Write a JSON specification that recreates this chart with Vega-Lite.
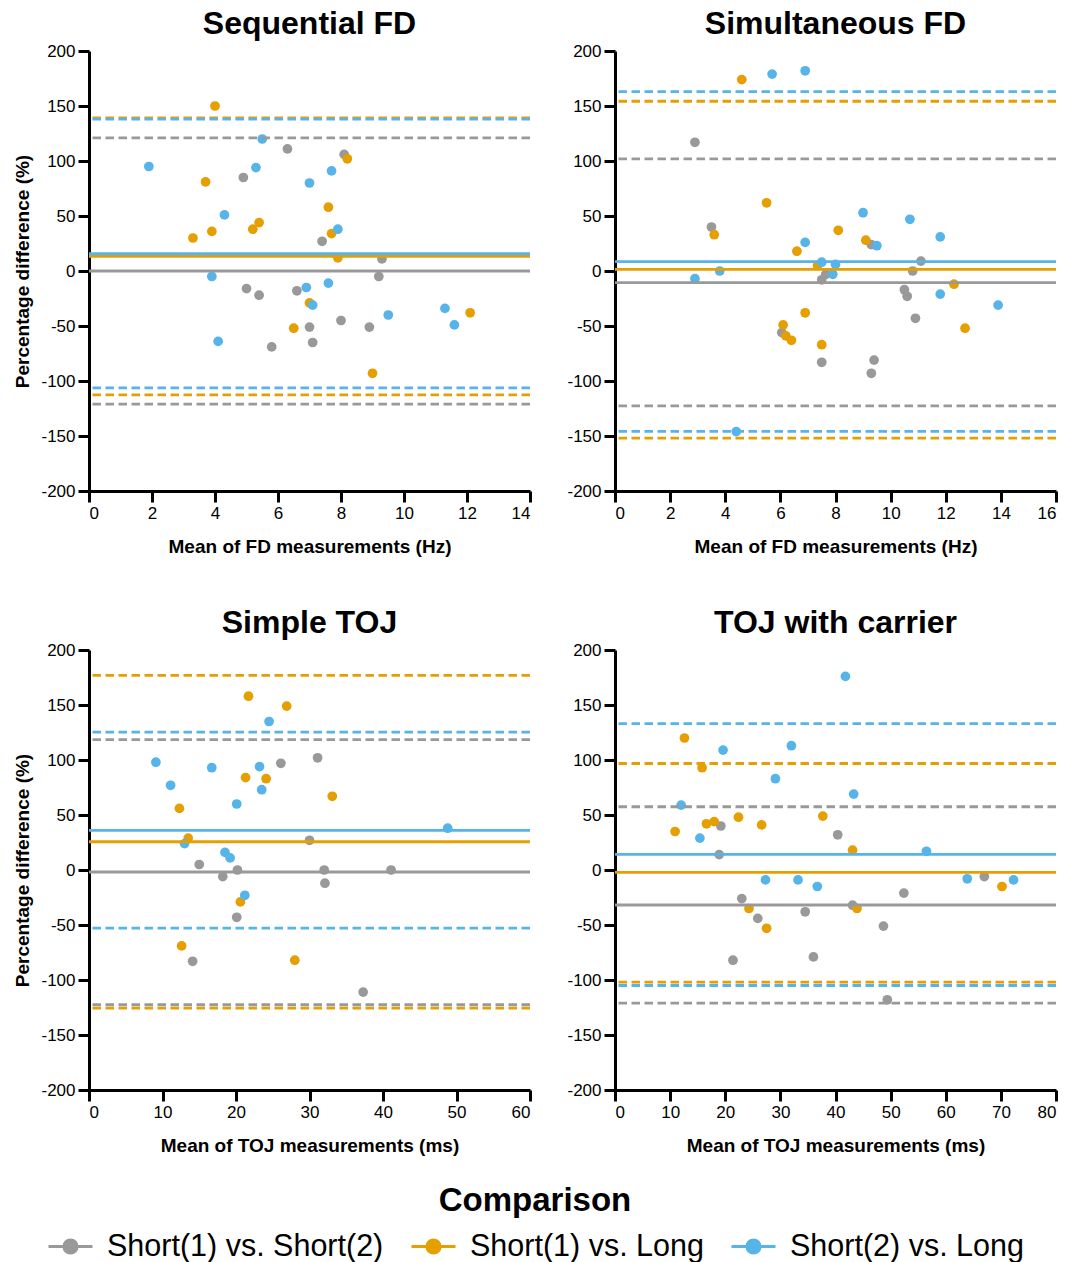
{
  "$schema": "https://vega.github.io/schema/vega-lite/v6.json",
  "padding": {"left": 13, "top": 8, "right": 5, "bottom": 2},
  "background": "white",
  "datasets": {
    "pts": [
      {"panel":"SF","comparison":"Short(1) vs. Short(2)","mean":6.3,"diff":111},
      {"panel":"SF","comparison":"Short(1) vs. Short(2)","mean":8.1,"diff":106},
      {"panel":"SF","comparison":"Short(1) vs. Short(2)","mean":4.9,"diff":85},
      {"panel":"SF","comparison":"Short(1) vs. Short(2)","mean":7.4,"diff":27},
      {"panel":"SF","comparison":"Short(1) vs. Short(2)","mean":9.3,"diff":11},
      {"panel":"SF","comparison":"Short(1) vs. Short(2)","mean":9.2,"diff":-5},
      {"panel":"SF","comparison":"Short(1) vs. Short(2)","mean":5.0,"diff":-16},
      {"panel":"SF","comparison":"Short(1) vs. Short(2)","mean":5.4,"diff":-22},
      {"panel":"SF","comparison":"Short(1) vs. Short(2)","mean":6.6,"diff":-18},
      {"panel":"SF","comparison":"Short(1) vs. Short(2)","mean":7.0,"diff":-51},
      {"panel":"SF","comparison":"Short(1) vs. Short(2)","mean":7.1,"diff":-65},
      {"panel":"SF","comparison":"Short(1) vs. Short(2)","mean":5.8,"diff":-69},
      {"panel":"SF","comparison":"Short(1) vs. Short(2)","mean":8.0,"diff":-45},
      {"panel":"SF","comparison":"Short(1) vs. Short(2)","mean":8.9,"diff":-51},
      {"panel":"SF","comparison":"Short(1) vs. Long","mean":4.0,"diff":150},
      {"panel":"SF","comparison":"Short(1) vs. Long","mean":3.7,"diff":81},
      {"panel":"SF","comparison":"Short(1) vs. Long","mean":3.3,"diff":30},
      {"panel":"SF","comparison":"Short(1) vs. Long","mean":3.9,"diff":36},
      {"panel":"SF","comparison":"Short(1) vs. Long","mean":5.2,"diff":38},
      {"panel":"SF","comparison":"Short(1) vs. Long","mean":5.4,"diff":44},
      {"panel":"SF","comparison":"Short(1) vs. Long","mean":7.6,"diff":58},
      {"panel":"SF","comparison":"Short(1) vs. Long","mean":7.7,"diff":34},
      {"panel":"SF","comparison":"Short(1) vs. Long","mean":8.2,"diff":102},
      {"panel":"SF","comparison":"Short(1) vs. Long","mean":7.9,"diff":12},
      {"panel":"SF","comparison":"Short(1) vs. Long","mean":7.0,"diff":-29},
      {"panel":"SF","comparison":"Short(1) vs. Long","mean":6.5,"diff":-52},
      {"panel":"SF","comparison":"Short(1) vs. Long","mean":9.0,"diff":-93},
      {"panel":"SF","comparison":"Short(1) vs. Long","mean":12.1,"diff":-38},
      {"panel":"SF","comparison":"Short(2) vs. Long","mean":1.9,"diff":95},
      {"panel":"SF","comparison":"Short(2) vs. Long","mean":5.3,"diff":94},
      {"panel":"SF","comparison":"Short(2) vs. Long","mean":5.5,"diff":120},
      {"panel":"SF","comparison":"Short(2) vs. Long","mean":7.7,"diff":91},
      {"panel":"SF","comparison":"Short(2) vs. Long","mean":7.0,"diff":80},
      {"panel":"SF","comparison":"Short(2) vs. Long","mean":4.3,"diff":51},
      {"panel":"SF","comparison":"Short(2) vs. Long","mean":7.9,"diff":38},
      {"panel":"SF","comparison":"Short(2) vs. Long","mean":3.9,"diff":-5},
      {"panel":"SF","comparison":"Short(2) vs. Long","mean":6.9,"diff":-15},
      {"panel":"SF","comparison":"Short(2) vs. Long","mean":7.6,"diff":-11},
      {"panel":"SF","comparison":"Short(2) vs. Long","mean":7.1,"diff":-31},
      {"panel":"SF","comparison":"Short(2) vs. Long","mean":4.1,"diff":-64},
      {"panel":"SF","comparison":"Short(2) vs. Long","mean":9.5,"diff":-40},
      {"panel":"SF","comparison":"Short(2) vs. Long","mean":11.3,"diff":-34},
      {"panel":"SF","comparison":"Short(2) vs. Long","mean":11.6,"diff":-49},

      {"panel":"SiF","comparison":"Short(1) vs. Short(2)","mean":2.9,"diff":117},
      {"panel":"SiF","comparison":"Short(1) vs. Short(2)","mean":3.5,"diff":40},
      {"panel":"SiF","comparison":"Short(1) vs. Short(2)","mean":9.3,"diff":24},
      {"panel":"SiF","comparison":"Short(1) vs. Short(2)","mean":11.1,"diff":9},
      {"panel":"SiF","comparison":"Short(1) vs. Short(2)","mean":10.8,"diff":0},
      {"panel":"SiF","comparison":"Short(1) vs. Short(2)","mean":7.65,"diff":-3},
      {"panel":"SiF","comparison":"Short(1) vs. Short(2)","mean":7.5,"diff":-8},
      {"panel":"SiF","comparison":"Short(1) vs. Short(2)","mean":10.5,"diff":-17},
      {"panel":"SiF","comparison":"Short(1) vs. Short(2)","mean":10.6,"diff":-23},
      {"panel":"SiF","comparison":"Short(1) vs. Short(2)","mean":10.9,"diff":-43},
      {"panel":"SiF","comparison":"Short(1) vs. Short(2)","mean":6.05,"diff":-56},
      {"panel":"SiF","comparison":"Short(1) vs. Short(2)","mean":7.5,"diff":-83},
      {"panel":"SiF","comparison":"Short(1) vs. Short(2)","mean":9.4,"diff":-81},
      {"panel":"SiF","comparison":"Short(1) vs. Short(2)","mean":9.3,"diff":-93},
      {"panel":"SiF","comparison":"Short(1) vs. Long","mean":4.6,"diff":174},
      {"panel":"SiF","comparison":"Short(1) vs. Long","mean":5.5,"diff":62},
      {"panel":"SiF","comparison":"Short(1) vs. Long","mean":3.6,"diff":33},
      {"panel":"SiF","comparison":"Short(1) vs. Long","mean":6.6,"diff":18},
      {"panel":"SiF","comparison":"Short(1) vs. Long","mean":8.1,"diff":37},
      {"panel":"SiF","comparison":"Short(1) vs. Long","mean":9.1,"diff":28},
      {"panel":"SiF","comparison":"Short(1) vs. Long","mean":7.35,"diff":5},
      {"panel":"SiF","comparison":"Short(1) vs. Long","mean":12.3,"diff":-12},
      {"panel":"SiF","comparison":"Short(1) vs. Long","mean":6.9,"diff":-38},
      {"panel":"SiF","comparison":"Short(1) vs. Long","mean":6.1,"diff":-49},
      {"panel":"SiF","comparison":"Short(1) vs. Long","mean":6.2,"diff":-59},
      {"panel":"SiF","comparison":"Short(1) vs. Long","mean":6.4,"diff":-63},
      {"panel":"SiF","comparison":"Short(1) vs. Long","mean":7.5,"diff":-67},
      {"panel":"SiF","comparison":"Short(1) vs. Long","mean":12.7,"diff":-52},
      {"panel":"SiF","comparison":"Short(2) vs. Long","mean":5.7,"diff":179},
      {"panel":"SiF","comparison":"Short(2) vs. Long","mean":6.9,"diff":182},
      {"panel":"SiF","comparison":"Short(2) vs. Long","mean":9.0,"diff":53},
      {"panel":"SiF","comparison":"Short(2) vs. Long","mean":10.7,"diff":47},
      {"panel":"SiF","comparison":"Short(2) vs. Long","mean":11.8,"diff":31},
      {"panel":"SiF","comparison":"Short(2) vs. Long","mean":6.9,"diff":26},
      {"panel":"SiF","comparison":"Short(2) vs. Long","mean":9.5,"diff":23},
      {"panel":"SiF","comparison":"Short(2) vs. Long","mean":7.5,"diff":8},
      {"panel":"SiF","comparison":"Short(2) vs. Long","mean":8.0,"diff":6},
      {"panel":"SiF","comparison":"Short(2) vs. Long","mean":7.9,"diff":-3},
      {"panel":"SiF","comparison":"Short(2) vs. Long","mean":3.8,"diff":0},
      {"panel":"SiF","comparison":"Short(2) vs. Long","mean":2.9,"diff":-7},
      {"panel":"SiF","comparison":"Short(2) vs. Long","mean":11.8,"diff":-21},
      {"panel":"SiF","comparison":"Short(2) vs. Long","mean":13.9,"diff":-31},
      {"panel":"SiF","comparison":"Short(2) vs. Long","mean":4.4,"diff":-146},

      {"panel":"ST","comparison":"Short(1) vs. Short(2)","mean":31.1,"diff":102},
      {"panel":"ST","comparison":"Short(1) vs. Short(2)","mean":26.1,"diff":97},
      {"panel":"ST","comparison":"Short(1) vs. Short(2)","mean":30.0,"diff":27},
      {"panel":"ST","comparison":"Short(1) vs. Short(2)","mean":15.0,"diff":5},
      {"panel":"ST","comparison":"Short(1) vs. Short(2)","mean":18.2,"diff":-6},
      {"panel":"ST","comparison":"Short(1) vs. Short(2)","mean":20.2,"diff":0},
      {"panel":"ST","comparison":"Short(1) vs. Short(2)","mean":32.0,"diff":0},
      {"panel":"ST","comparison":"Short(1) vs. Short(2)","mean":41.1,"diff":0},
      {"panel":"ST","comparison":"Short(1) vs. Short(2)","mean":32.1,"diff":-12},
      {"panel":"ST","comparison":"Short(1) vs. Short(2)","mean":20.1,"diff":-43},
      {"panel":"ST","comparison":"Short(1) vs. Short(2)","mean":14.1,"diff":-83},
      {"panel":"ST","comparison":"Short(1) vs. Short(2)","mean":37.3,"diff":-111},
      {"panel":"ST","comparison":"Short(1) vs. Long","mean":21.7,"diff":158},
      {"panel":"ST","comparison":"Short(1) vs. Long","mean":26.9,"diff":149},
      {"panel":"ST","comparison":"Short(1) vs. Long","mean":21.3,"diff":84},
      {"panel":"ST","comparison":"Short(1) vs. Long","mean":24.1,"diff":83},
      {"panel":"ST","comparison":"Short(1) vs. Long","mean":33.1,"diff":67},
      {"panel":"ST","comparison":"Short(1) vs. Long","mean":12.3,"diff":56},
      {"panel":"ST","comparison":"Short(1) vs. Long","mean":13.5,"diff":29},
      {"panel":"ST","comparison":"Short(1) vs. Long","mean":20.6,"diff":-29},
      {"panel":"ST","comparison":"Short(1) vs. Long","mean":12.6,"diff":-69},
      {"panel":"ST","comparison":"Short(1) vs. Long","mean":28.0,"diff":-82},
      {"panel":"ST","comparison":"Short(2) vs. Long","mean":9.1,"diff":98},
      {"panel":"ST","comparison":"Short(2) vs. Long","mean":11.1,"diff":77},
      {"panel":"ST","comparison":"Short(2) vs. Long","mean":16.7,"diff":93},
      {"panel":"ST","comparison":"Short(2) vs. Long","mean":23.2,"diff":94},
      {"panel":"ST","comparison":"Short(2) vs. Long","mean":24.5,"diff":135},
      {"panel":"ST","comparison":"Short(2) vs. Long","mean":23.5,"diff":73},
      {"panel":"ST","comparison":"Short(2) vs. Long","mean":20.1,"diff":60},
      {"panel":"ST","comparison":"Short(2) vs. Long","mean":48.8,"diff":38},
      {"panel":"ST","comparison":"Short(2) vs. Long","mean":13.0,"diff":24},
      {"panel":"ST","comparison":"Short(2) vs. Long","mean":18.5,"diff":16},
      {"panel":"ST","comparison":"Short(2) vs. Long","mean":19.2,"diff":11},
      {"panel":"ST","comparison":"Short(2) vs. Long","mean":21.2,"diff":-23},

      {"panel":"TC","comparison":"Short(1) vs. Short(2)","mean":19.2,"diff":40},
      {"panel":"TC","comparison":"Short(1) vs. Short(2)","mean":18.9,"diff":14},
      {"panel":"TC","comparison":"Short(1) vs. Short(2)","mean":40.4,"diff":32},
      {"panel":"TC","comparison":"Short(1) vs. Short(2)","mean":23.0,"diff":-26},
      {"panel":"TC","comparison":"Short(1) vs. Short(2)","mean":25.9,"diff":-44},
      {"panel":"TC","comparison":"Short(1) vs. Short(2)","mean":21.4,"diff":-82},
      {"panel":"TC","comparison":"Short(1) vs. Short(2)","mean":34.5,"diff":-38},
      {"panel":"TC","comparison":"Short(1) vs. Short(2)","mean":36.0,"diff":-79},
      {"panel":"TC","comparison":"Short(1) vs. Short(2)","mean":43.1,"diff":-32},
      {"panel":"TC","comparison":"Short(1) vs. Short(2)","mean":48.7,"diff":-51},
      {"panel":"TC","comparison":"Short(1) vs. Short(2)","mean":52.4,"diff":-21},
      {"panel":"TC","comparison":"Short(1) vs. Short(2)","mean":49.4,"diff":-118},
      {"panel":"TC","comparison":"Short(1) vs. Short(2)","mean":67.0,"diff":-6},
      {"panel":"TC","comparison":"Short(1) vs. Long","mean":12.6,"diff":120},
      {"panel":"TC","comparison":"Short(1) vs. Long","mean":15.8,"diff":93},
      {"panel":"TC","comparison":"Short(1) vs. Long","mean":10.9,"diff":35},
      {"panel":"TC","comparison":"Short(1) vs. Long","mean":16.6,"diff":42},
      {"panel":"TC","comparison":"Short(1) vs. Long","mean":18.0,"diff":44},
      {"panel":"TC","comparison":"Short(1) vs. Long","mean":22.4,"diff":48},
      {"panel":"TC","comparison":"Short(1) vs. Long","mean":26.6,"diff":41},
      {"panel":"TC","comparison":"Short(1) vs. Long","mean":37.7,"diff":49},
      {"panel":"TC","comparison":"Short(1) vs. Long","mean":43.1,"diff":18},
      {"panel":"TC","comparison":"Short(1) vs. Long","mean":24.3,"diff":-35},
      {"panel":"TC","comparison":"Short(1) vs. Long","mean":27.5,"diff":-53},
      {"panel":"TC","comparison":"Short(1) vs. Long","mean":43.9,"diff":-35},
      {"panel":"TC","comparison":"Short(1) vs. Long","mean":70.2,"diff":-15},
      {"panel":"TC","comparison":"Short(2) vs. Long","mean":41.8,"diff":176},
      {"panel":"TC","comparison":"Short(2) vs. Long","mean":19.6,"diff":109},
      {"panel":"TC","comparison":"Short(2) vs. Long","mean":32.0,"diff":113},
      {"panel":"TC","comparison":"Short(2) vs. Long","mean":29.1,"diff":83},
      {"panel":"TC","comparison":"Short(2) vs. Long","mean":43.3,"diff":69},
      {"panel":"TC","comparison":"Short(2) vs. Long","mean":12.0,"diff":59},
      {"panel":"TC","comparison":"Short(2) vs. Long","mean":15.4,"diff":29},
      {"panel":"TC","comparison":"Short(2) vs. Long","mean":56.5,"diff":17},
      {"panel":"TC","comparison":"Short(2) vs. Long","mean":27.3,"diff":-9},
      {"panel":"TC","comparison":"Short(2) vs. Long","mean":33.2,"diff":-9},
      {"panel":"TC","comparison":"Short(2) vs. Long","mean":36.7,"diff":-15},
      {"panel":"TC","comparison":"Short(2) vs. Long","mean":63.9,"diff":-8},
      {"panel":"TC","comparison":"Short(2) vs. Long","mean":72.3,"diff":-9}
    ],
    "lines": [
      {"panel":"SF","comparison":"Short(1) vs. Short(2)","kind":"bias","value":0},
      {"panel":"SF","comparison":"Short(1) vs. Short(2)","kind":"loa","value":121},
      {"panel":"SF","comparison":"Short(1) vs. Short(2)","kind":"loa","value":-121},
      {"panel":"SF","comparison":"Short(1) vs. Long","kind":"bias","value":13.3},
      {"panel":"SF","comparison":"Short(1) vs. Long","kind":"loa","value":139.2},
      {"panel":"SF","comparison":"Short(1) vs. Long","kind":"loa","value":-112.6},
      {"panel":"SF","comparison":"Short(2) vs. Long","kind":"bias","value":15.7},
      {"panel":"SF","comparison":"Short(2) vs. Long","kind":"loa","value":138.0},
      {"panel":"SF","comparison":"Short(2) vs. Long","kind":"loa","value":-106.3},
      {"panel":"SiF","comparison":"Short(1) vs. Short(2)","kind":"bias","value":-10.6},
      {"panel":"SiF","comparison":"Short(1) vs. Short(2)","kind":"loa","value":102},
      {"panel":"SiF","comparison":"Short(1) vs. Short(2)","kind":"loa","value":-122.6},
      {"panel":"SiF","comparison":"Short(1) vs. Long","kind":"bias","value":1.5},
      {"panel":"SiF","comparison":"Short(1) vs. Long","kind":"loa","value":154.3},
      {"panel":"SiF","comparison":"Short(1) vs. Long","kind":"loa","value":-151.9},
      {"panel":"SiF","comparison":"Short(2) vs. Long","kind":"bias","value":8.5},
      {"panel":"SiF","comparison":"Short(2) vs. Long","kind":"loa","value":163},
      {"panel":"SiF","comparison":"Short(2) vs. Long","kind":"loa","value":-145.8},
      {"panel":"ST","comparison":"Short(1) vs. Short(2)","kind":"bias","value":-1.8},
      {"panel":"ST","comparison":"Short(1) vs. Short(2)","kind":"loa","value":118.6},
      {"panel":"ST","comparison":"Short(1) vs. Short(2)","kind":"loa","value":-122.5},
      {"panel":"ST","comparison":"Short(1) vs. Long","kind":"bias","value":25.7},
      {"panel":"ST","comparison":"Short(1) vs. Long","kind":"loa","value":177},
      {"panel":"ST","comparison":"Short(1) vs. Long","kind":"loa","value":-125.6},
      {"panel":"ST","comparison":"Short(2) vs. Long","kind":"bias","value":36},
      {"panel":"ST","comparison":"Short(2) vs. Long","kind":"loa","value":125.3},
      {"panel":"ST","comparison":"Short(2) vs. Long","kind":"loa","value":-52.9},
      {"panel":"TC","comparison":"Short(1) vs. Short(2)","kind":"bias","value":-31.8},
      {"panel":"TC","comparison":"Short(1) vs. Short(2)","kind":"loa","value":57.5},
      {"panel":"TC","comparison":"Short(1) vs. Short(2)","kind":"loa","value":-121},
      {"panel":"TC","comparison":"Short(1) vs. Long","kind":"bias","value":-2.1},
      {"panel":"TC","comparison":"Short(1) vs. Long","kind":"loa","value":96.8},
      {"panel":"TC","comparison":"Short(1) vs. Long","kind":"loa","value":-102},
      {"panel":"TC","comparison":"Short(2) vs. Long","kind":"bias","value":14.2},
      {"panel":"TC","comparison":"Short(2) vs. Long","kind":"loa","value":133.1},
      {"panel":"TC","comparison":"Short(2) vs. Long","kind":"loa","value":-105}
    ]
  },
  "columns": 2,
  "spacing": {"row": 159, "column": 85},
  "bounds": "flush",
  "concat": [
    {
      "width": 441, "height": 440,
      "title": "Sequential FD",
      "layer": [
        {
          "data": {"name": "pts"},
          "transform": [{"filter": "datum.panel === 'SF'"}],
          "mark": {"type": "point", "filled": true, "size": 95, "opacity": 1, "shape": "circle"},
          "encoding": {
            "x": {"field": "mean", "type": "quantitative", "scale": {"domain": [0, 14], "nice": false, "zero": false}, "axis": {"values": [0,2,4,6,8,10,12,14], "title": "Mean of FD measurements (Hz)"}},
            "y": {"field": "diff", "type": "quantitative", "scale": {"domain": [-200, 200], "nice": false}, "axis": {"values": [-200,-150,-100,-50,0,50,100,150,200], "title": "Percentage difference (%)"}},
            "color": {"field": "comparison", "type": "nominal", "scale": {"domain": ["Short(1) vs. Short(2)", "Short(1) vs. Long", "Short(2) vs. Long"], "range": ["#999999", "#E69F00", "#56B4E9"]}, "legend": {"orient": "none", "legendX": -42, "legendY": 1134, "direction": "horizontal", "title": "Comparison", "titleAnchor": "middle", "titleFontSize": 33, "titleFontWeight": "bold", "titleColor": "black", "titlePadding": 5, "titleLimit": 600, "labelLimit": 500, "labelFontSize": 30.5, "labelColor": "black", "labelOffset": 13, "columnPadding": 21, "symbolType": "M-1,0L1,0M0.3,0A0.3,0.3,0,1,1,-0.3,0A0.3,0.3,0,1,1,0.3,0Z", "symbolSize": 1936, "symbolStrokeWidth": 3, "symbolOpacity": 1, "encode": {"symbols": {"update": {"fill": {"scale": "color", "field": "value"}, "stroke": {"scale": "color", "field": "value"}}}}}}
          }
        },
        {
          "data": {"name": "lines"},
          "transform": [{"filter": "datum.panel === 'SF'"}],
          "mark": {"type": "rule", "strokeWidth": 2.8},
          "encoding": {
            "y": {"field": "value", "type": "quantitative"},
            "color": {"field": "comparison", "type": "nominal"},
            "strokeDash": {"field": "kind", "type": "nominal", "scale": {"domain": ["bias", "loa"], "range": [[1, 0], [8.5, 4.5]]}, "legend": null}
          }
        }
      ]
    },
    {
      "width": 441, "height": 440,
      "title": "Simultaneous FD",
      "layer": [
        {
          "data": {"name": "pts"},
          "transform": [{"filter": "datum.panel === 'SiF'"}],
          "mark": {"type": "point", "filled": true, "size": 95, "opacity": 1, "shape": "circle"},
          "encoding": {
            "x": {"field": "mean", "type": "quantitative", "scale": {"domain": [0, 16], "nice": false, "zero": false}, "axis": {"values": [0,2,4,6,8,10,12,14,16], "title": "Mean of FD measurements (Hz)"}},
            "y": {"field": "diff", "type": "quantitative", "scale": {"domain": [-200, 200], "nice": false}, "axis": {"values": [-200,-150,-100,-50,0,50,100,150,200], "title": null}},
            "color": {"field": "comparison", "type": "nominal"}
          }
        },
        {
          "data": {"name": "lines"},
          "transform": [{"filter": "datum.panel === 'SiF'"}],
          "mark": {"type": "rule", "strokeWidth": 2.8},
          "encoding": {
            "y": {"field": "value", "type": "quantitative"},
            "color": {"field": "comparison", "type": "nominal"},
            "strokeDash": {"field": "kind", "type": "nominal", "scale": {"domain": ["bias", "loa"], "range": [[1, 0], [8.5, 4.5]]}, "legend": null}
          }
        }
      ]
    },
    {
      "width": 441, "height": 440,
      "title": "Simple TOJ",
      "layer": [
        {
          "data": {"name": "pts"},
          "transform": [{"filter": "datum.panel === 'ST'"}],
          "mark": {"type": "point", "filled": true, "size": 95, "opacity": 1, "shape": "circle"},
          "encoding": {
            "x": {"field": "mean", "type": "quantitative", "scale": {"domain": [0, 60], "nice": false, "zero": false}, "axis": {"values": [0,10,20,30,40,50,60], "title": "Mean of TOJ measurements (ms)"}},
            "y": {"field": "diff", "type": "quantitative", "scale": {"domain": [-200, 200], "nice": false}, "axis": {"values": [-200,-150,-100,-50,0,50,100,150,200], "title": "Percentage difference (%)"}},
            "color": {"field": "comparison", "type": "nominal"}
          }
        },
        {
          "data": {"name": "lines"},
          "transform": [{"filter": "datum.panel === 'ST'"}],
          "mark": {"type": "rule", "strokeWidth": 2.8},
          "encoding": {
            "y": {"field": "value", "type": "quantitative"},
            "color": {"field": "comparison", "type": "nominal"},
            "strokeDash": {"field": "kind", "type": "nominal", "scale": {"domain": ["bias", "loa"], "range": [[1, 0], [8.5, 4.5]]}, "legend": null}
          }
        }
      ]
    },
    {
      "width": 441, "height": 440,
      "title": "TOJ with carrier",
      "layer": [
        {
          "data": {"name": "pts"},
          "transform": [{"filter": "datum.panel === 'TC'"}],
          "mark": {"type": "point", "filled": true, "size": 95, "opacity": 1, "shape": "circle"},
          "encoding": {
            "x": {"field": "mean", "type": "quantitative", "scale": {"domain": [0, 80], "nice": false, "zero": false}, "axis": {"values": [0,10,20,30,40,50,60,70,80], "title": "Mean of TOJ measurements (ms)"}},
            "y": {"field": "diff", "type": "quantitative", "scale": {"domain": [-200, 200], "nice": false}, "axis": {"values": [-200,-150,-100,-50,0,50,100,150,200], "title": null}},
            "color": {"field": "comparison", "type": "nominal"}
          }
        },
        {
          "data": {"name": "lines"},
          "transform": [{"filter": "datum.panel === 'TC'"}],
          "mark": {"type": "rule", "strokeWidth": 2.8},
          "encoding": {
            "y": {"field": "value", "type": "quantitative"},
            "color": {"field": "comparison", "type": "nominal"},
            "strokeDash": {"field": "kind", "type": "nominal", "scale": {"domain": ["bias", "loa"], "range": [[1, 0], [8.5, 4.5]]}, "legend": null}
          }
        }
      ]
    }
  ],
  "resolve": {"scale": {"x": "independent", "y": "independent", "color": "shared", "strokeDash": "shared"}},
  "config": {
    "font": "Liberation Sans",
    "view": {"stroke": null},
    "axis": {"domainColor": "black", "domainWidth": 3, "tickColor": "black", "tickWidth": 3, "tickSize": 11, "labelFontSize": 17, "labelColor": "black", "labelFont": "Liberation Sans", "titleFont": "Liberation Sans", "titleFontSize": 19, "titleFontWeight": "bold", "titleColor": "black", "grid": false, "labelPadding": 3, "labelExpr": "replace(datum.label, '\u2212', '-')"},
    "axisX": {"titlePadding": 16},
    "axisY": {"titlePadding": 8},
    "legend": {"labelFont": "Liberation Sans", "titleFont": "Liberation Sans"},
    "title": {"fontSize": 32, "fontWeight": "bold", "color": "black", "offset": 1, "anchor": "middle", "font": "Liberation Sans"}
  }
}
